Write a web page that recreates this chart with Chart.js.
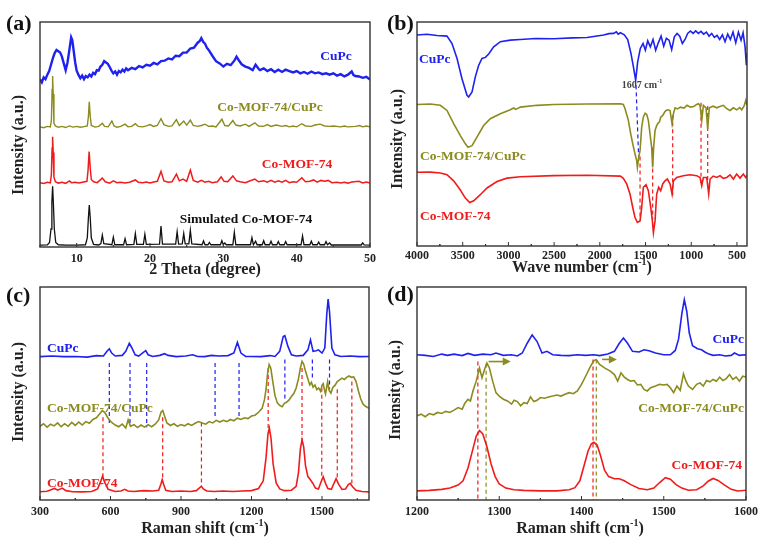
<!DOCTYPE html>
<html>
<head>
<meta charset="utf-8">
<script src="https://cdn.jsdelivr.net/npm/chart.js@4.4.0/dist/chart.umd.min.js"></script>
<style>
  html, body { margin: 0; padding: 0; background: #fff; }
  #wrap { position: relative; width: 774px; height: 545px; overflow: hidden; }
  canvas { position: absolute; }
</style>
</head>
<body>
<div id="wrap">
  <canvas id="pa" width="387" height="280" style="left:0;top:0"></canvas>
  <canvas id="pb" width="387" height="280" style="left:387px;top:0"></canvas>
  <canvas id="pc" width="387" height="273" style="left:0;top:272px"></canvas>
  <canvas id="pd" width="387" height="273" style="left:387px;top:272px"></canvas>
</div>
<script>
// ---- (a) XRD, 2 theta vs stacked intensity (0-100 of the frame) ----
const xrdTicks = [10, 20, 30, 40, 50];
const xrdCuPc = [[5,74.5],[5.25,73.2],[5.5,75.4],[5.75,74.6],[6,76.6],[6.25,78.2],[6.5,81],[6.75,83.8],[7,86.2],[7.25,87.6],[7.5,87],[7.75,86.4],[8,84.5],[8.25,81.5],[8.5,78.6],[8.75,82],[9,87.5],[9.25,93.2],[9.4,92],[9.6,87],[9.8,82],[10,78.4],[10.25,76.5],[10.5,75],[10.75,76.2],[11,74.6],[11.25,76],[11.5,75.4],[11.75,76.6],[12,75.8],[12.25,77.4],[12.5,76.8],[12.75,78.6],[13,78.4],[13.25,80.2],[13.5,81],[13.75,82.6],[14,82],[14.25,81.4],[14.5,80],[14.75,78.4],[15,77.2],[15.25,78],[15.5,76.6],[15.75,78.2],[16,77.6],[16.25,78.8],[16.5,78],[16.75,79.4],[17,78.6],[17.5,79.6],[18,79],[18.5,80.4],[19,79.8],[19.5,81],[20,80.6],[20.5,81.8],[21,81.2],[21.5,82.6],[22,82.8],[22.5,83.8],[23,83.4],[23.5,85],[24,84.8],[24.5,86.4],[25,86.4],[25.5,88.2],[26,88.6],[26.5,90.8],[26.8,91.6],[27,92.8],[27.25,91.2],[27.5,90.4],[27.75,88.6],[28,87.6],[28.5,85],[29,82.6],[29.5,81.6],[30,80.2],[30.5,81.4],[31,80.8],[31.5,82.8],[31.8,84.6],[32.1,83],[32.5,81.2],[33,80.2],[33.5,79.6],[34,78.6],[34.4,81],[34.8,79.2],[35,78.6],[35.5,79.4],[36,78.2],[36.5,79],[37,77.8],[37.5,78.8],[38,77.8],[38.5,78.8],[39,78.2],[39.5,77.6],[40,78.2],[40.5,77.2],[41,77.8],[41.5,77],[42,78],[42.5,77.2],[43,77.6],[43.5,76.8],[44,77.2],[44.5,76.6],[45,77.2],[45.5,76.2],[46,76.8],[46.5,75.8],[47,76.6],[47.5,78],[47.75,76.4],[48,76],[48.5,75.8],[49,75.2],[49.5,75.6],[50,74.4]];
const xrdComp = [[5,53.4],[5.5,53],[6,53.6],[6.4,53.4],[6.55,56],[6.65,70],[6.72,76],[6.8,68],[6.9,55],[7.1,53.8],[7.5,53.2],[8,53.6],[8.5,53.1],[9,53.8],[9.5,53.3],[10,53.6],[10.5,53.2],[11,53.5],[11.45,53.8],[11.6,58],[11.72,64.5],[11.85,58],[12,54],[12.5,53.3],[13,53.6],[13.5,55],[13.8,53.6],[14.3,53.4],[14.8,56],[15.1,53.8],[15.5,53.2],[16,53.6],[16.6,54.6],[17,53.4],[17.5,53.6],[18,54.8],[18.4,53.6],[19,53.4],[19.5,53.8],[20,54.4],[20.5,53.6],[21,54],[21.5,57],[21.9,54.4],[22.5,53.6],[23,53.8],[23.6,56.6],[24,54],[24.6,56],[25,54.2],[25.5,56.4],[25.9,54],[26.5,53.6],[27,54],[27.5,54.6],[28,53.6],[28.5,53.8],[29,53.4],[29.8,56.8],[30.2,54],[30.7,53.8],[31.3,56.2],[31.7,54.2],[32.3,53.8],[33,54.6],[33.5,53.6],[34.3,55.2],[34.8,53.8],[35.5,53.6],[36,54.4],[36.5,53.6],[37.2,54.2],[38,53.6],[38.5,54],[39,53.4],[39.5,53.8],[40,53.4],[40.7,54.8],[41.2,53.8],[42,53.6],[42.5,54.2],[43.2,54.6],[43.8,53.8],[44.5,53.6],[45,53.8],[46,53.4],[46.5,53.8],[47,53.4],[48,53.6],[48.6,54],[49,53.4],[49.5,53.8],[50,53.4]];
const xrdMof = [[5,28.6],[5.5,28.2],[6,28.8],[6.4,28.5],[6.55,32],[6.65,44],[6.72,49],[6.8,42],[6.9,31],[7.1,29],[7.5,28.4],[8,28.8],[8.5,28.3],[9,29.4],[9.3,28.6],[9.8,28.8],[10.3,28.4],[10.8,28.8],[11.4,29.2],[11.55,34],[11.7,42.4],[11.85,35],[12,30],[12.3,29],[12.8,28.6],[13.5,30.6],[13.9,29],[14.5,28.4],[15,29.4],[15.5,28.6],[16,28.8],[16.6,28.4],[17.2,28.8],[18,29.8],[18.4,28.8],[19,28.6],[19.5,28.9],[20,28.5],[20.5,28.9],[21,29.2],[21.5,33.6],[21.9,29.4],[22.5,28.8],[23,29],[23.6,32.4],[24,29.4],[24.5,30.2],[25,29.2],[25.5,34.2],[25.9,29.6],[26.5,28.8],[27,29.6],[27.5,28.8],[28,29.2],[28.5,28.6],[29.2,29],[29.7,31.2],[30.1,29.2],[30.6,29],[31.3,31.6],[31.8,29.4],[32.3,29],[33,28.6],[33.5,29.2],[34.3,30.2],[34.8,29],[35.5,29.4],[36,28.8],[36.5,29.6],[37,28.8],[37.5,29.4],[38,28.8],[38.5,29.6],[39,28.6],[39.5,29],[40,28.8],[40.7,30.8],[41.2,29],[41.8,29.2],[42.3,29.8],[42.8,28.8],[43.3,29.6],[43.8,29.2],[44.3,29.6],[44.8,28.6],[45.5,28.8],[46,28.4],[46.5,28.8],[47,28.4],[47.5,28.9],[48.5,29.2],[49,28.5],[49.5,28.9],[50,28.4]];
const xrdSim = [[5,0.8],[6,0.9],[6.3,2],[6.5,8],[6.62,20],[6.72,27],[6.82,20],[6.95,8],[7.15,2],[7.5,1],[8.5,0.8],[10,0.8],[11.2,1],[11.45,4],[11.6,13],[11.72,18.7],[11.85,13],[12,4],[12.3,1.2],[13,0.9],[13.3,1.5],[13.5,5.3],[13.7,1.5],[14.8,1],[15,4.4],[15.2,1],[16.4,1],[16.6,3.7],[16.8,1],[17.8,1.2],[18,6],[18.2,1.2],[19.1,1.2],[19.3,5.7],[19.5,1.2],[21.3,1.3],[21.5,9.3],[21.7,1.3],[23.5,1.3],[23.7,6.8],[23.9,1.3],[24.4,1.4],[24.6,6],[24.8,1.4],[25.3,1.4],[25.5,7.4],[25.7,1.4],[27.1,1],[27.3,2.7],[27.5,1],[27.9,1],[28.1,2],[28.3,1],[29.6,1],[29.8,2.8],[30,1],[30.2,1.8],[30.4,1],[31.3,1],[31.5,6.5],[31.7,1],[33.7,1],[33.9,4.1],[34.1,1],[34.4,2.6],[34.6,1],[35.3,1],[35.5,2.8],[35.7,1],[36.3,1],[36.5,2.6],[36.7,1],[37.3,1],[37.5,2.4],[37.7,1],[38.3,1],[38.5,2.4],[38.7,1],[40.6,1],[40.8,4.9],[41,1],[41.8,1],[42,2.6],[42.2,1],[42.8,1],[43,2.2],[43.2,1],[43.8,1],[44,2.4],[44.2,1],[44.5,1.8],[44.7,0.9],[48.8,0.9],[49,1.8],[49.2,0.9],[50,0.8]];

// ---- (b) FTIR, wave number (cm-1) ----
const irTicks = [4000, 3500, 3000, 2500, 2000, 1500, 1000, 500];
const irCuPc = [[4000,94.2],[3891,94.5],[3781,94.0],[3672,93.7],[3617,90.4],[3562,83.7],[3508,74.7],[3453,67.3],[3435,66.5],[3398,68.8],[3362,75.5],[3325,80.7],[3289,83.7],[3252,84.2],[3216,85.7],[3161,88.9],[3088,91.2],[2979,91.9],[2869,92.2],[2700,92.6],[2505,92.5],[2300,92.9],[2140,93.1],[1958,94.2],[1900,94.8],[1848,94.9],[1820,95.6],[1800,94.6],[1775,95.2],[1732,94.3],[1695,92.2],[1659,85.9],[1629,79.2],[1608,74.0],[1586,82.2],[1557,88.2],[1527,90.4],[1502,87.4],[1476,91.6],[1447,88.9],[1418,92.2],[1389,87.4],[1360,90.7],[1330,93.7],[1301,89.2],[1272,92.7],[1243,91.9],[1214,87.7],[1185,93.4],[1155,94.9],[1126,93.7],[1097,90.4],[1068,92.2],[1039,94.9],[1009,96.0],[980,94.9],[951,96.0],[922,94.9],[893,95.8],[864,94.6],[834,95.5],[805,93.7],[776,94.9],[747,93.1],[718,94.0],[689,92.2],[659,94.3],[630,91.2],[601,94.6],[572,92.2],[543,95.5],[513,90.7],[484,95.5],[455,91.9],[433,95.2],[411,88.9],[397,80.7],[390,86]];
const irComp = [[4000,63.2],[3854,63.4],[3745,62.8],[3672,60.5],[3599,54.6],[3526,49.3],[3471,45.6],[3442,44.1],[3398,44.8],[3344,48.6],[3271,53.8],[3198,56.8],[3088,59.0],[2979,60.8],[2942,61.6],[2920,61.0],[2869,62.0],[2687,62.8],[2505,63.2],[2140,63.4],[1775,63.5],[1743,63.2],[1724,61.3],[1688,56.1],[1662,50.1],[1640,45.6],[1615,41.1],[1597,38.1],[1589,35.1],[1575,39.6],[1560,42.6],[1542,53.1],[1524,57.5],[1505,59.3],[1487,58.7],[1469,56.1],[1451,50.1],[1433,44.1],[1422,35.1],[1411,44.1],[1396,51.6],[1378,53.8],[1363,54.9],[1349,55.3],[1334,57.5],[1312,58.3],[1290,59.8],[1276,60.5],[1254,60.8],[1232,60.5],[1210,54.6],[1195,59.0],[1177,61.7],[1150,61.2],[1119,62.0],[1080,61.6],[1046,62.8],[1010,62.0],[973,62.3],[940,63.2],[922,63.5],[904,62.8],[885,56.1],[867,62.8],[838,61.7],[820,52.3],[802,61.7],[760,62.4],[721,61.7],[680,62.4],[648,62.8],[612,61.3],[575,60.5],[539,61.7],[503,60.8],[470,61.8],[448,60.8],[419,62.8],[404,65.0],[390,63]];
const irMof = [[4000,32.9],[3854,33.0],[3745,32.6],[3672,31.8],[3599,29.1],[3526,25.0],[3471,21.4],[3424,19.4],[3380,20.2],[3307,22.9],[3234,25.9],[3125,28.8],[3015,30.3],[2869,30.9],[2505,31.4],[2140,31.6],[1775,31.2],[1743,30.2],[1706,27.7],[1670,23.2],[1640,17.2],[1615,12.7],[1589,10.5],[1560,11.2],[1542,17.2],[1524,26.2],[1495,27.4],[1469,24.7],[1443,17.2],[1425,11.2],[1414,6.0],[1396,11.2],[1378,23.2],[1356,26.2],[1334,24.7],[1312,27.7],[1287,29.1],[1261,29.9],[1232,27.7],[1210,23.2],[1195,29.1],[1159,30.6],[1086,31.4],[1013,31.8],[940,31.4],[904,30.6],[885,26.9],[867,30.6],[831,30.6],[809,23.2],[794,29.9],[760,31.2],[721,30.6],[685,31.4],[650,30.2],[612,30.6],[575,31.8],[539,29.9],[503,32.1],[466,30.3],[430,32.1],[404,30.6],[390,31.6]];
const irBlueGuide = [[1604, 71.7, 1575, 38.9]];
const irRedGuides = [[1560, 40, 1560, 12], [1422, 44, 1422, 12], [1203, 58.4, 1203, 22.6], [893, 64, 893, 28], [820, 62.5, 820, 25]];

// ---- (c) Raman, 300-1700 cm-1 ----
const ramTicks = [300, 600, 900, 1200, 1500];
const ramCuPc = [[300,67.3],[350,67.6],[400,67.3],[450,67.4],[500,67.1],[540,67.8],[570,67.6],[585,69.8],[595,71.0],[605,69.0],[620,67.6],[650,67.9],[665,69.8],[680,73.6],[690,71.6],[705,68.2],[720,67.6],[740,69.3],[750,70.1],[760,68.2],[780,67.4],[810,67.9],[830,68.7],[845,67.9],[880,67.3],[920,67.6],[950,68.2],[970,67.4],[1000,67.3],[1030,67.9],[1060,67.6],[1100,67.8],[1125,69.0],[1140,74.0],[1155,69.0],[1175,67.4],[1200,67.4],[1240,67.3],[1280,67.8],[1300,67.4],[1320,69.8],[1335,76.7],[1342,77.1],[1355,72.1],[1370,68.2],[1390,67.6],[1420,67.9],[1440,70.5],[1451,75.2],[1462,69.8],[1475,70.1],[1485,70.5],[1500,69.0],[1512,71.3],[1520,86.8],[1526,94.3],[1532,88.4],[1542,71.3],[1555,68.2],[1580,67.4],[1620,67.6],[1660,67.3],[1700,67.4]];
const ramComp = [[300,34.6],[315,35.8],[330,34.2],[345,35.6],[360,34.8],[375,36.2],[390,34.4],[405,35.8],[420,34.6],[435,36.4],[450,35],[465,36.6],[480,35.2],[495,36.8],[510,36],[525,37.8],[540,38.6],[555,40.6],[565,42],[575,41.2],[590,38.4],[605,36.4],[620,35.2],[635,34.4],[650,35.6],[665,33.8],[675,37.6],[685,34.6],[700,35.4],[715,34],[730,35.2],[745,34.2],[760,35.4],[775,34.4],[790,35.6],[805,37.6],[815,41.2],[822,42],[830,39.4],[840,36.2],[855,35],[870,35.8],[885,34.6],[900,35.4],[915,34.8],[930,35.8],[945,35],[960,36],[975,36.8],[990,36.2],[1005,35.6],[1020,36.8],[1035,36.2],[1050,37.4],[1065,36.6],[1080,37.4],[1095,36.8],[1110,37.8],[1125,37.2],[1140,38.4],[1155,37.8],[1170,38.6],[1185,38.2],[1200,39.4],[1215,39.8],[1230,41.2],[1245,43],[1255,47],[1262,52],[1268,59],[1275,63.6],[1282,62],[1290,56],[1300,49],[1310,45.6],[1320,44.4],[1330,43.8],[1340,45.4],[1350,46],[1360,47],[1370,48.6],[1380,50],[1390,52.6],[1400,57],[1408,62],[1415,65.1],[1422,63.8],[1430,60.4],[1440,56.8],[1448,54],[1455,55.2],[1462,53],[1470,54],[1478,51.8],[1486,52.6],[1494,51],[1500,53.8],[1505,54.6],[1510,52],[1515,49.8],[1520,53],[1524,55.6],[1530,51.6],[1538,50.2],[1546,52.8],[1555,53.8],[1565,55.6],[1575,56.4],[1585,57.2],[1595,56.6],[1605,57.6],[1615,58.2],[1625,57.6],[1635,57.8],[1645,55.6],[1655,51.2],[1665,47.4],[1675,45],[1685,44],[1700,43]];
const ramMof = [[300,3.9],[330,4.1],[350,4.9],[362,5.4],[375,4.6],[395,5.6],[410,4.4],[440,3.9],[480,3.8],[520,4],[545,5.2],[558,8.6],[566,11.2],[575,8.4],[590,5],[620,4],[645,4.2],[660,5],[675,4.2],[700,4],[740,4.4],[780,4.2],[805,4.6],[815,7.6],[820,9.6],[826,7.4],[835,4.6],[860,4],[900,4.2],[940,4],[965,4.4],[980,5.8],[987,6.4],[995,5.2],[1010,4.2],[1040,4],[1080,4.2],[1120,4],[1160,4.2],[1200,4.4],[1230,5.4],[1250,9],[1262,20],[1270,31],[1276,33.8],[1283,29],[1292,17],[1305,8],[1320,5.2],[1340,4.4],[1370,4.6],[1390,6.4],[1400,13],[1408,24],[1415,28.2],[1422,25],[1430,16],[1440,11],[1450,9.6],[1460,8],[1472,5.6],[1485,5.2],[1495,8.2],[1505,10.9],[1515,7.8],[1525,5.4],[1540,5],[1550,7.6],[1560,10],[1570,7.6],[1585,5],[1600,5.2],[1612,7.2],[1620,7.8],[1630,6.2],[1645,4.6],[1670,4],[1700,3.8]];
const ramBlueGuides = [[595,64.3,595,35.7],[683,64.3,683,34.9],[754,64.3,754,34.1],[1045,64.3,1045,38.8],[1147,64.3,1147,38],[1342,66,1342,46.5],[1459,66,1459,57.4],[1532,66,1532,52]];
const ramRedGuides = [[568,38.8,568,10.9],[822,38.8,822,9.3],[987,36.4,987,6.2],[1271,62,1271,32.6],[1415,62,1415,27.9],[1499,52.7,1499,10],[1565,52,1565,10],[1627,55.6,1627,7.8]];

// ---- (d) Raman zoom, 1200-1600 cm-1 ----
const zoomTicks = [1200, 1300, 1400, 1500, 1600];
const zoomCuPc = [[1200,68.2],[1210,67.9],[1220,67.4],[1230,68.5],[1237,67.9],[1245,68.5],[1255,67.8],[1262,68.8],[1270,67.9],[1280,68.5],[1290,68.2],[1296,69.0],[1305,67.9],[1315,68.2],[1322,67.6],[1328,69.0],[1334,73.6],[1340,77.5],[1346,74.4],[1352,69.0],[1358,69.8],[1365,68.2],[1375,67.9],[1385,67.8],[1395,68.2],[1405,67.9],[1415,68.2],[1422,67.8],[1432,68.5],[1440,69.8],[1446,73.6],[1451,76.0],[1456,73.6],[1462,69.8],[1470,69.5],[1476,70.5],[1482,70.1],[1490,69.0],[1500,68.2],[1508,68.2],[1514,70.2],[1518,75.5],[1522,87.5],[1525,94.0],[1528,88.5],[1531,78.5],[1535,72.4],[1541,71.0],[1546,70.5],[1550,69.5],[1555,68.5],[1560,67.9],[1568,68.2],[1575,67.6],[1582,67.9],[1586,69.0],[1592,67.9],[1598,68.2],[1600,67.9]];
const zoomComp = [[1200,39.5],[1205,40.3],[1210,39.1],[1215,40.6],[1220,40.0],[1225,41.1],[1230,40.6],[1235,41.6],[1240,41.1],[1245,42.2],[1250,43.4],[1255,42.6],[1258,45.3],[1262,47.3],[1265,46.5],[1268,51.2],[1272,55.8],[1276,62.0],[1279,57.4],[1282,61.2],[1285,64.3],[1288,62.0],[1292,55.8],[1296,50.4],[1300,48.8],[1305,47.3],[1310,46.5],[1315,45.0],[1318,46.8],[1322,46.2],[1326,44.2],[1330,45.7],[1334,45.3],[1338,48.4],[1342,46.2],[1346,46.8],[1350,48.1],[1355,47.8],[1360,48.4],[1365,48.8],[1370,49.3],[1375,48.8],[1380,49.6],[1385,50.4],[1390,49.9],[1395,51.2],[1400,54.3],[1405,58.1],[1410,62.0],[1415,65.4],[1418,65.9],[1422,63.6],[1428,62.0],[1435,60.5],[1440,58.9],[1444,55.8],[1448,59.7],[1452,57.7],[1456,56.6],[1460,55.8],[1464,56.1],[1468,54.0],[1472,54.3],[1476,51.9],[1480,51.2],[1484,52.7],[1490,53.5],[1495,54.3],[1500,54.0],[1504,54.3],[1508,52.7],[1512,50.4],[1516,53.5],[1520,51.5],[1524,59.2],[1527,55.8],[1530,53.5],[1535,51.9],[1540,54.3],[1544,55.0],[1548,53.5],[1552,56.1],[1556,55.5],[1560,56.6],[1564,55.8],[1568,57.7],[1572,56.1],[1576,57.0],[1580,58.9],[1584,56.6],[1588,57.7],[1592,55.8],[1596,58.1],[1600,57.7]];
const zoomMof = [[1200,4.3],[1215,4.5],[1230,5],[1240,5.6],[1250,7],[1256,9],[1262,15],[1268,24],[1272,30],[1276,32.6],[1280,31],[1285,25],[1290,17],[1295,11],[1300,7.6],[1308,5.6],[1318,4.8],[1330,4.5],[1350,4.3],[1370,4.3],[1385,4.8],[1392,5.8],[1398,9],[1403,16],[1408,23],[1412,26.4],[1415,27.1],[1419,25.8],[1423,21],[1428,14],[1433,11],[1440,10],[1446,10],[1452,9],[1460,7.2],[1470,5.4],[1480,4.8],[1488,5.6],[1495,8.2],[1502,10.5],[1508,9.8],[1515,7.2],[1522,5.6],[1530,4.6],[1540,4.8],[1548,6.6],[1554,8.8],[1560,10.1],[1566,9.2],[1574,7],[1582,5],[1590,4.2],[1600,4.6]];
const zoomRedGuides = [[1274,65,1274,0],[1414,66,1414,0]];
const zoomOliveGuides = [[1284,64,1284,0],[1418,66,1418,0]];
const zoomShiftArrows = [[1287,65,1314,65],[1425,66,1443,66]];

const serif = '"Liberation Serif", "Times New Roman", Times, serif';
const BLUE = '#1f22ee', OLIVE = '#8b8b1f', RED = '#f01c1c', BLACK = '#111';
Chart.defaults.font.family = serif;

const pts = arr => arr.map(p => ({ x: p[0], y: p[1] }));

function line(data, color, width) {
  return { data: pts(data), borderColor: color, borderWidth: width || 1.6, pointRadius: 0, fill: false, tension: 0 };
}
function guides(segs, color) {
  return segs.map(s => ({
    data: [{ x: s[0], y: s[1] }, { x: s[2], y: s[3] }],
    borderColor: color, borderWidth: 1.2, borderDash: [4, 3], pointRadius: 0, fill: false
  }));
}

function drawLabel(ctx, L) {
  ctx.save();
  ctx.translate(L.x, L.y);
  if (L.rot) ctx.rotate(L.rot);
  const f = 'bold ' + L.size + 'px ' + serif;
  const fs = 'bold ' + Math.round(L.size * 0.62) + 'px ' + serif;
  ctx.font = f;
  const w1 = ctx.measureText(L.t).width;
  let w2 = 0, w3 = 0;
  if (L.sup) {
    ctx.font = fs; w2 = ctx.measureText(L.sup).width;
    ctx.font = f; w3 = ctx.measureText(L.tail).width;
  }
  const W = w1 + w2 + w3;
  const x0 = L.align === 'left' ? 0 : L.align === 'right' ? -W : -W / 2;
  ctx.fillStyle = L.color || '#222';
  ctx.textBaseline = 'middle';
  ctx.textAlign = 'left';
  ctx.font = f;
  ctx.fillText(L.t, x0, 0);
  if (L.sup) {
    ctx.font = fs; ctx.fillText(L.sup, x0 + w1, -L.size * 0.33);
    ctx.font = f; ctx.fillText(L.tail, x0 + w1 + w2, 0);
  }
  ctx.restore();
}

const decor = {
  id: 'decor',
  afterDraw(chart, args, o) {
    const ctx = chart.ctx, a = chart.chartArea, xs = chart.scales.x, ys = chart.scales.y;
    ctx.save();
    // shift arrows, in data space
    (o.arrows || []).forEach(r => {
      const x1 = xs.getPixelForValue(r[0]), y1 = ys.getPixelForValue(r[1]);
      const x2 = xs.getPixelForValue(r[2]), y2 = ys.getPixelForValue(r[3]);
      ctx.strokeStyle = OLIVE; ctx.fillStyle = OLIVE; ctx.lineWidth = 1.6;
      ctx.beginPath(); ctx.moveTo(x1, y1); ctx.lineTo(x2 - 6, y2); ctx.stroke();
      ctx.beginPath(); ctx.moveTo(x2, y2); ctx.lineTo(x2 - 8, y2 - 4); ctx.lineTo(x2 - 8, y2 + 4); ctx.closePath(); ctx.fill();
    });
    // frame
    ctx.strokeStyle = '#333'; ctx.lineWidth = 1.4;
    ctx.strokeRect(a.left, a.top, a.right - a.left, a.bottom - a.top);
    // inward ticks: major at tick values, minor halfway
    ctx.lineWidth = 1;
    const tv = o.ticks, half = Math.abs(tv[1] - tv[0]) / 2;
    tv.forEach(v => {
      [[v, 4], [v + half, 2], [v - half, 2]].forEach(m => {
        const px = xs.getPixelForValue(m[0]);
        if (px < a.left - 0.5 || px > a.right + 0.5) return;
        ctx.beginPath(); ctx.moveTo(px, a.bottom); ctx.lineTo(px, a.bottom - m[1]); ctx.stroke();
      });
    });
    ctx.restore();
    (o.labels || []).forEach(L => drawLabel(ctx, L));
  }
};

function panel(id, cfg) {
  const cv = document.getElementById(id);
  const H = cv.height, W = cv.width;
  new Chart(cv, {
    type: 'line',
    data: { datasets: cfg.datasets },
    options: {
      responsive: false,
      animation: false,
      layout: { autoPadding: false, padding: { left: cfg.area[0], top: cfg.area[1], right: W - cfg.area[2], bottom: 0 } },
      plugins: { legend: { display: false }, tooltip: { enabled: false }, decor: cfg.decor },
      scales: {
        x: {
          type: 'linear', min: cfg.xmin, max: cfg.xmax, reverse: !!cfg.reverse,
          grid: { display: false, drawTicks: false },
          border: { display: false },
          ticks: { padding: cfg.tickPad, color: '#222', font: { family: serif, weight: 'bold', size: 12 }, callback: v => String(v) },
          afterBuildTicks: s => { s.ticks = cfg.decor.ticks.map(v => ({ value: v })); },
          afterFit: s => { s.height = H - cfg.area[3]; }
        },
        y: { display: false, min: 0, max: 100 }
      }
    },
    plugins: [decor]
  });
}

const yTitle = (x, y) => ({ t: 'Intensity (a.u.)', x: x, y: y, size: 16, rot: -Math.PI / 2, color: '#222' });

panel('pa', {
  area: [40, 22, 370, 247], xmin: 5, xmax: 50, tickPad: 5,
  datasets: [line(xrdCuPc, BLUE, 2.4), line(xrdComp, OLIVE, 1.4), line(xrdMof, RED, 1.5), line(xrdSim, BLACK, 1.3)],
  decor: {
    ticks: xrdTicks,
    labels: [
      { t: '(a)', x: 6, y: 24, size: 22, align: 'left', color: '#111' },
      { t: 'CuPc', x: 336, y: 57, size: 13.5, color: BLUE },
      { t: 'Co-MOF-74/CuPc', x: 270, y: 108, size: 13.5, color: OLIVE },
      { t: 'Co-MOF-74', x: 297, y: 165, size: 13.5, color: RED },
      { t: 'Simulated Co-MOF-74', x: 246, y: 220, size: 13.5, color: BLACK },
      yTitle(19, 145),
      { t: '2 Theta (degree)', x: 205, y: 270, size: 16, color: '#222' }
    ]
  }
});

panel('pb', {
  area: [30, 22, 360, 246], xmin: 390, xmax: 4000, reverse: true, tickPad: 3,
  datasets: [line(irCuPc, BLUE), line(irComp, OLIVE), line(irMof, RED)]
    .concat(guides(irBlueGuide, BLUE), guides(irRedGuides, RED)),
  decor: {
    ticks: irTicks,
    labels: [
      { t: '(b)', x: 0, y: 24, size: 22, align: 'left', color: '#111' },
      { t: 'CuPc', x: 32, y: 60, size: 13.5, align: 'left', color: BLUE },
      { t: '1607 cm', sup: '-1', tail: '', x: 255, y: 85, size: 10, color: '#444' },
      { t: 'Co-MOF-74/CuPc', x: 33, y: 157, size: 13.5, align: 'left', color: OLIVE },
      { t: 'Co-MOF-74', x: 33, y: 217, size: 13.5, align: 'left', color: RED },
      yTitle(11, 139),
      { t: 'Wave number (cm', sup: '-1', tail: ')', x: 195, y: 268, size: 16, color: '#222' }
    ]
  }
});

panel('pc', {
  area: [40, 15, 369, 228], xmin: 300, xmax: 1700, tickPad: 5,
  datasets: [line(ramCuPc, BLUE), line(ramComp, OLIVE), line(ramMof, RED)]
    .concat(guides(ramBlueGuides, BLUE), guides(ramRedGuides, RED)),
  decor: {
    ticks: ramTicks,
    labels: [
      { t: '(c)', x: 6, y: 24, size: 22, align: 'left', color: '#111' },
      { t: 'CuPc', x: 47, y: 77, size: 13.5, align: 'left', color: BLUE },
      { t: 'Co-MOF-74/CuPc', x: 47, y: 137, size: 13.5, align: 'left', color: OLIVE },
      { t: 'Co-MOF-74', x: 47, y: 212, size: 13.5, align: 'left', color: RED },
      yTitle(19, 120),
      { t: 'Raman shift (cm', sup: '-1', tail: ')', x: 205, y: 257, size: 16, color: '#222' }
    ]
  }
});

panel('pd', {
  area: [30, 15, 359, 228], xmin: 1200, xmax: 1600, tickPad: 5,
  datasets: [line(zoomCuPc, BLUE), line(zoomComp, OLIVE), line(zoomMof, RED)]
    .concat(guides(zoomRedGuides, RED), guides(zoomOliveGuides, OLIVE)),
  decor: {
    ticks: zoomTicks,
    arrows: zoomShiftArrows,
    labels: [
      { t: '(d)', x: 0, y: 23, size: 22, align: 'left', color: '#111' },
      { t: 'CuPc', x: 357, y: 68, size: 13.5, align: 'right', color: BLUE },
      { t: 'Co-MOF-74/CuPc', x: 357, y: 137, size: 13.5, align: 'right', color: OLIVE },
      { t: 'Co-MOF-74', x: 355, y: 194, size: 13.5, align: 'right', color: RED },
      yTitle(9, 118),
      { t: 'Raman shift (cm', sup: '-1', tail: ')', x: 193, y: 257, size: 16, color: '#222' }
    ]
  }
});
</script>
</body>
</html>
